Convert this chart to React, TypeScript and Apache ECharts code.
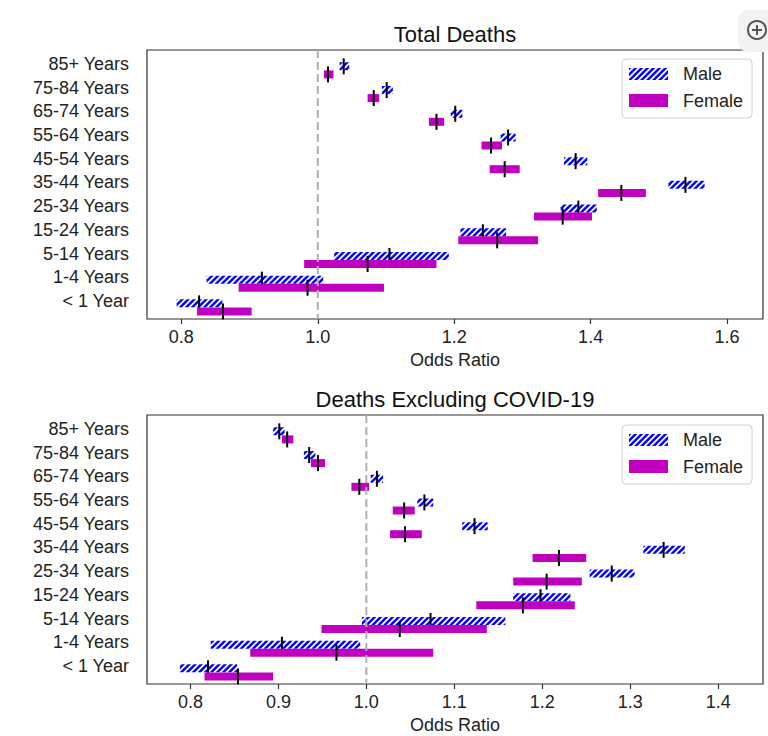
import React, { useEffect, useRef } from "react";
import * as echarts from "echarts";

// ---------- data ----------
const CATEGORIES = [
  "85+ Years",
  "75-84 Years",
  "65-74 Years",
  "55-64 Years",
  "45-54 Years",
  "35-44 Years",
  "25-34 Years",
  "15-24 Years",
  "5-14 Years",
  "1-4 Years",
  "< 1 Year",
];

// Total Deaths
const TOTAL_MALE_EST = [1.038, 1.101, 1.2015, 1.279, 1.378, 1.539, 1.382, 1.242, 1.105, 0.918, 0.826];
const TOTAL_MALE_LO = [1.032, 1.094, 1.195, 1.268, 1.361, 1.514, 1.356, 1.209, 1.024, 0.837, 0.793];
const TOTAL_MALE_HI = [1.046, 1.11, 1.212, 1.29, 1.395, 1.567, 1.409, 1.276, 1.192, 1.008, 0.86];
const TOTAL_FEMALE_EST = [1.015, 1.082, 1.174, 1.254, 1.274, 1.445, 1.359, 1.263, 1.073, 0.985, 0.861];
const TOTAL_FEMALE_LO = [1.009, 1.073, 1.163, 1.24, 1.252, 1.411, 1.317, 1.206, 0.98, 0.884, 0.823];
const TOTAL_FEMALE_HI = [1.023, 1.09, 1.185, 1.27, 1.296, 1.481, 1.402, 1.323, 1.174, 1.097, 0.903];

// Deaths Excluding COVID-19
const EXCL_MALE_EST = [0.901, 0.935, 1.012, 1.066, 1.123, 1.338, 1.279, 1.198, 1.073, 0.904, 0.82];
const EXCL_MALE_LO = [0.894, 0.929, 1.005, 1.058, 1.109, 1.315, 1.254, 1.167, 0.995, 0.823, 0.788];
const EXCL_MALE_HI = [0.907, 0.942, 1.019, 1.076, 1.138, 1.362, 1.305, 1.232, 1.158, 0.993, 0.853];
const EXCL_FEMALE_EST = [0.91, 0.945, 0.992, 1.043, 1.044, 1.219, 1.205, 1.178, 1.038, 0.966, 0.854];
const EXCL_FEMALE_LO = [0.904, 0.937, 0.983, 1.03, 1.027, 1.189, 1.167, 1.125, 0.949, 0.868, 0.816];
const EXCL_FEMALE_HI = [0.917, 0.953, 1.003, 1.055, 1.063, 1.25, 1.245, 1.237, 1.137, 1.076, 0.894];

const X_TICKS_TOP = [0.8, 1.0, 1.2, 1.4, 1.6];
const X_TICKS_BOTTOM = [0.8, 0.9, 1.0, 1.1, 1.2, 1.3, 1.4];
const REFERENCE_LINE = 1.0;

// ---------- styling / layout ----------
const FONT = "'Liberation Sans', Arial, Helvetica, sans-serif";
const BLUE = "#0000ff";
const MAGENTA = "#bf00bf";
const TEXT = "#222";
const Y_MIN = -0.59;
const Y_MAX = 10.76;
const MALE_OFFSET = 0.1;
const FEMALE_OFFSET = 0.44;
const BAR_PX = 8;
const TICK_H = 16;

type Pt = number[];
function clipPoly(poly: Pt[], f: (p: Pt) => number): Pt[] {
  const out: Pt[] = [];
  for (let i = 0; i < poly.length; i++) {
    const a = poly[i];
    const b = poly[(i + 1) % poly.length];
    const fa = f(a);
    const fb = f(b);
    if (fa >= 0) out.push(a);
    if (fa >= 0 !== fb >= 0) {
      const t = fa / (fa - fb);
      out.push([a[0] + t * (b[0] - a[0]), a[1] + t * (b[1] - a[1])]);
    }
  }
  return out;
}

function hatchPolys(x0: number, y0: number, x1: number, y1: number, period = 6, w = 3.4): Pt[][] {
  const rect: Pt[] = [
    [x0, y0],
    [x1, y0],
    [x1, y1],
    [x0, y1],
  ];
  const polys: Pt[][] = [];
  const kStart = Math.floor((x0 + y0) / period) - 1;
  const kEnd = Math.ceil((x1 + y1) / period) + 1;
  for (let k = kStart; k <= kEnd; k++) {
    const c = k * period;
    let p = clipPoly(rect, (q) => q[0] + q[1] - c);
    if (p.length < 3) continue;
    p = clipPoly(p, (q) => c + w - (q[0] + q[1]));
    if (p.length >= 3) polys.push(p);
  }
  return polys;
}

function hatchedRect(x0: number, y0: number, x1: number, y1: number): any[] {
  const els: any[] = [
    { type: "rect", shape: { x: x0, y: y0, width: x1 - x0, height: y1 - y0 }, style: { fill: "#fff" } },
  ];
  hatchPolys(x0, y0, x1, y1).forEach((p) =>
    els.push({ type: "polygon", shape: { points: p }, style: { fill: BLUE } })
  );
  return els;
}

function makeRender(kind: "male" | "female") {
  return (_params: any, api: any) => {
    const lo = api.value(0);
    const hi = api.value(1);
    const est = api.value(2);
    const yv = api.value(3);
    const p0 = api.coord([lo, yv]);
    const p1 = api.coord([hi, yv]);
    const pe = api.coord([est, yv]);
    const yc = p0[1];
    const y0 = yc - BAR_PX / 2;
    const y1 = yc + BAR_PX / 2;
    const children: any[] =
      kind === "male"
        ? hatchedRect(p0[0], y0, p1[0], y1)
        : [{ type: "rect", shape: { x: p0[0], y: y0, width: p1[0] - p0[0], height: BAR_PX }, style: { fill: MAGENTA } }];
    children.push({
      type: "rect",
      shape: { x: pe[0] - 1, y: yc - TICK_H / 2, width: 2, height: TICK_H },
      style: { fill: "#000" },
    });
    return { type: "group", children };
  };
}

function rows(lo: number[], hi: number[], est: number[], offset: number) {
  return CATEGORIES.map((_, k) => [lo[k], hi[k], est[k], k + offset]);
}

function legend(x: number, y: number): any[] {
  const els: any[] = [
    {
      type: "rect",
      shape: { x, y, width: 130, height: 59, r: 4 },
      style: { fill: "rgba(255,255,255,0.8)", stroke: "#d0d0d0", lineWidth: 1 },
      z: 10,
    },
  ];
  hatchedRect(x + 7, y + 9, x + 46, y + 21).forEach((e) => els.push({ ...e, z: 11 }));
  els.push({
    type: "rect",
    shape: { x: x + 7, y: y + 35, width: 39, height: 13 },
    style: { fill: MAGENTA },
    z: 11,
  });
  els.push({
    type: "text",
    x: x + 61,
    y: y + 15,
    style: { text: "Male", fill: TEXT, font: `18px ${FONT}`, textVerticalAlign: "middle" },
    z: 11,
  });
  els.push({
    type: "text",
    x: x + 61,
    y: y + 42,
    style: { text: "Female", fill: TEXT, font: `18px ${FONT}`, textVerticalAlign: "middle" },
    z: 11,
  });
  return els;
}

function buildOption() {
  const grids = [
    { left: 147, top: 50, width: 616, height: 269 },
    { left: 147, top: 415, width: 616, height: 269 },
  ];
  const xCfg = [
    { min: 0.7496, max: 1.6527, ticks: X_TICKS_TOP },
    { min: 0.7506, max: 1.451, ticks: X_TICKS_BOTTOM },
  ];
  const panels = [
    {
      male: rows(TOTAL_MALE_LO, TOTAL_MALE_HI, TOTAL_MALE_EST, MALE_OFFSET),
      female: rows(TOTAL_FEMALE_LO, TOTAL_FEMALE_HI, TOTAL_FEMALE_EST, FEMALE_OFFSET),
    },
    {
      male: rows(EXCL_MALE_LO, EXCL_MALE_HI, EXCL_MALE_EST, MALE_OFFSET),
      female: rows(EXCL_FEMALE_LO, EXCL_FEMALE_HI, EXCL_FEMALE_EST, FEMALE_OFFSET),
    },
  ];

  const series: any[] = [];
  panels.forEach((p, i) => {
    series.push({
      type: "custom",
      name: "Male",
      xAxisIndex: i,
      yAxisIndex: i,
      renderItem: makeRender("male"),
      data: p.male,
      encode: { x: [0, 1, 2], y: 3 },
      silent: true,
      z: 2,
    });
    series.push({
      type: "custom",
      name: "Female",
      xAxisIndex: i,
      yAxisIndex: i,
      renderItem: makeRender("female"),
      data: p.female,
      encode: { x: [0, 1, 2], y: 3 },
      silent: true,
      z: 2,
    });
    series.push({
      type: "line",
      xAxisIndex: i,
      yAxisIndex: i,
      data: [
        [REFERENCE_LINE, Y_MIN],
        [REFERENCE_LINE, Y_MAX],
      ],
      showSymbol: false,
      silent: true,
      lineStyle: { color: "#b0b0b0", width: 2, type: [8, 4] },
      z: 3,
    });
  });

  return {
    animation: false,
    backgroundColor: "#fff",
    textStyle: { fontFamily: FONT },
    title: [
      {
        text: "Total Deaths",
        left: 455,
        top: 23,
        textAlign: "center",
        textStyle: { fontSize: 22, fontWeight: "normal", color: "#111", fontFamily: FONT },
        padding: 0,
      },
      {
        text: "Deaths Excluding COVID-19",
        left: 455,
        top: 388,
        textAlign: "center",
        textStyle: { fontSize: 22, fontWeight: "normal", color: "#111", fontFamily: FONT },
        padding: 0,
      },
    ],
    grid: grids.map((g) => ({
      ...g,
      show: true,
      borderColor: "#333",
      borderWidth: 1.2,
      backgroundColor: "transparent",
      containLabel: false,
    })),
    xAxis: xCfg.map((c, i) => ({
      type: "value",
      gridIndex: i,
      position: "bottom",
      min: c.min,
      max: c.max,
      axisLine: { show: false, onZero: false },
      axisTick: { show: true, length: 5, lineStyle: { color: "#333", width: 1.2 }, customValues: c.ticks },
      axisLabel: {
        customValues: c.ticks,
        formatter: (v: number) => v.toFixed(1),
        fontSize: 18,
        color: TEXT,
        margin: 9,
        fontFamily: FONT,
      },
      splitLine: { show: false },
      name: "Odds Ratio",
      nameLocation: "middle",
      nameGap: 32,
      nameTextStyle: { fontSize: 18, color: TEXT, fontFamily: FONT },
    })),
    yAxis: [0, 1].map((i) => ({
      type: "value",
      gridIndex: i,
      inverse: true,
      min: Y_MIN,
      max: Y_MAX,
      axisLine: { show: false, onZero: false },
      axisTick: { show: false },
      splitLine: { show: false },
      axisLabel: {
        customValues: CATEGORIES.map((_, k) => k),
        formatter: (v: number) => CATEGORIES[Math.round(v)] ?? "",
        fontSize: 18,
        color: TEXT,
        margin: 18,
        fontFamily: FONT,
      },
    })),
    series,
    graphic: [
      ...legend(622, 59),
      ...legend(622, 425),
      {
        type: "rect",
        shape: { x: 738, y: 10, width: 40, height: 42, r: 10 },
        style: { fill: "#f2f2f2" },
        z: 20,
      },
      {
        type: "circle",
        shape: { cx: 757, cy: 30, r: 9 },
        style: { fill: "none", stroke: "#555", lineWidth: 2 },
        z: 21,
      },
      { type: "line", shape: { x1: 752, y1: 30, x2: 762, y2: 30 }, style: { stroke: "#555", lineWidth: 2 }, z: 21 },
      { type: "line", shape: { x1: 757, y1: 25, x2: 757, y2: 35 }, style: { stroke: "#555", lineWidth: 2 }, z: 21 },
    ],
  };
}

export default function App() {
  const ref = useRef<HTMLDivElement>(null);
  useEffect(() => {
    if (!ref.current) return;
    const chart = echarts.init(ref.current, null, { renderer: "svg" });
    chart.setOption(buildOption() as any);
    return () => chart.dispose();
  }, []);
  return (
    <div
      ref={ref}
      style={{ position: "fixed", left: 0, top: 0, width: 768, height: 736, background: "#fff" }}
    />
  );
}
